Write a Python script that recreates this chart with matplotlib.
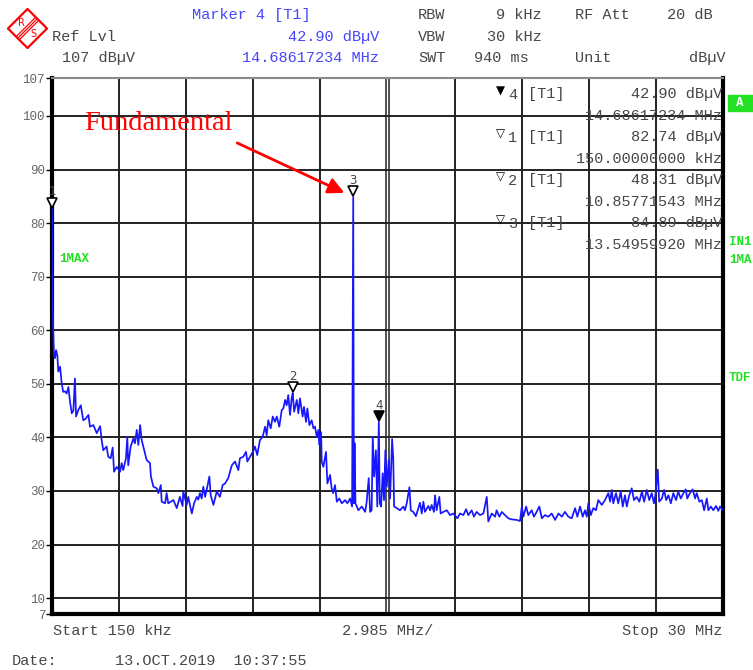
import matplotlib
matplotlib.use("Agg")
import matplotlib.pyplot as plt
from matplotlib.patches import Polygon

# trace (MHz, dBuV)
freq_mhz = [
    0.15, 0.19, 0.24, 0.28, 0.33, 0.39, 0.43, 0.51, 0.58, 0.65, 0.73, 0.80, 0.88, 0.95,
    1.03, 1.10, 1.17, 1.22, 1.32, 1.43, 1.54, 1.65, 1.77, 1.84, 1.99, 2.14, 2.29, 2.36,
    2.43, 2.58, 2.65, 2.76, 2.85, 2.91, 3.03, 3.18, 3.25, 3.32, 3.44, 3.50, 3.54, 3.65,
    3.77, 3.84, 3.92, 3.99, 4.07, 4.14, 4.21, 4.36, 4.51, 4.55, 4.66, 4.81, 4.88, 4.99,
    5.03, 5.18, 5.25, 5.32, 5.55, 5.70, 5.84, 5.96, 5.99, 6.14, 6.21, 6.37, 6.47, 6.59,
    6.66, 6.73, 6.81, 6.88, 6.96, 7.03, 7.15, 7.21, 7.33, 7.48, 7.62, 7.74, 7.85, 7.99,
    8.15, 8.29, 8.44, 8.51, 8.66, 8.78, 8.84, 8.96, 9.11, 9.18, 9.28, 9.40, 9.52, 9.63,
    9.70, 9.77, 9.88, 9.97, 10.07, 10.15, 10.26, 10.37, 10.44, 10.52, 10.59, 10.66, 10.74,
    10.81, 10.86, 10.92, 11.04, 11.11, 11.18, 11.30, 11.36, 11.45, 11.51, 11.60, 11.70,
    11.78, 11.85, 11.93, 12.00, 12.04, 12.12, 12.15, 12.22, 12.34, 12.40, 12.52, 12.59,
    12.66, 12.74, 12.82, 12.93, 13.04, 13.19, 13.29, 13.41, 13.50, 13.55, 13.58, 13.61,
    13.65, 13.78, 13.93, 14.08, 14.15, 14.24, 14.30, 14.37, 14.42, 14.48, 14.56, 14.62,
    14.69, 14.73, 14.79, 14.86, 14.92, 14.98, 15.04, 15.13, 15.19, 15.28, 15.33, 15.37,
    15.49, 15.63, 15.78, 15.85, 15.93, 16.05, 16.11, 16.22, 16.34, 16.45, 16.52, 16.60,
    16.67, 16.74, 16.89, 16.97, 17.04, 17.14, 17.19, 17.26, 17.38, 17.44, 17.56, 17.71,
    17.86, 18.00, 18.18, 18.30, 18.45, 18.57, 18.67, 18.82, 18.92, 19.04, 19.19, 19.34,
    19.49, 19.56, 19.71, 19.86, 19.93, 20.05, 20.16, 20.30, 20.45, 20.60, 20.82, 20.97,
    21.05, 21.12, 21.24, 21.34, 21.49, 21.59, 21.71, 21.83, 21.94, 22.08, 22.23, 22.38,
    22.53, 22.68, 22.83, 22.97, 23.12, 23.27, 23.42, 23.52, 23.64, 23.76, 23.86, 23.94,
    24.01, 24.12, 24.23, 24.35, 24.45, 24.61, 24.75, 24.90, 24.98, 25.05, 25.12, 25.24,
    25.34, 25.45, 25.54, 25.64, 25.72, 25.83, 25.94, 26.04, 26.16, 26.28, 26.39, 26.49,
    26.61, 26.72, 26.83, 26.93, 26.99, 27.10, 27.16, 27.28, 27.38, 27.47, 27.57, 27.68,
    27.79, 27.91, 28.01, 28.12, 28.24, 28.34, 28.41, 28.53, 28.65, 28.76, 28.83, 28.95,
    29.06, 29.16, 29.28, 29.35, 29.46, 29.57, 29.69, 29.79, 29.87, 30.00,
]
level_dbuv = [
    82.74, 62.0, 55.0, 54.8, 56.3, 55.2, 52.3, 53.2, 50.1, 48.5, 48.6, 48.2, 49.4, 46.7,
    44.5, 45.0, 51.0, 43.9, 45.1, 46.0, 43.2, 43.5, 44.2, 42.0, 42.3, 40.8, 42.1, 39.5,
    37.6, 38.3, 36.4, 36.1, 38.1, 33.6, 34.5, 33.6, 35.2, 33.9, 36.1, 40.1, 34.8, 38.3,
    39.8, 38.9, 41.4, 38.6, 42.3, 39.5, 38.3, 35.8, 35.2, 32.7, 30.8, 30.5, 29.6, 31.1,
    28.0, 27.7, 29.6, 27.7, 28.3, 26.8, 28.9, 27.2, 29.9, 27.4, 28.9, 25.8, 27.7, 28.9,
    28.4, 29.6, 28.6, 30.8, 28.9, 30.2, 32.7, 29.2, 27.4, 29.9, 28.9, 31.1, 31.4, 32.4,
    34.8, 35.5, 33.9, 36.1, 36.4, 37.3, 35.5, 36.4, 37.5, 38.3, 36.7, 39.5, 40.1, 42.0,
    40.4, 43.2, 41.7, 43.9, 42.9, 43.9, 42.0, 45.1, 45.4, 47.0, 46.0, 47.9, 44.2,
    47.3, 48.31, 44.8, 47.0, 44.5, 47.3, 43.9, 45.7, 42.9, 45.4, 42.3, 43.2,
    41.7, 42.0, 40.1, 41.4, 38.6, 41.0, 35.5, 34.5, 37.3, 31.4, 33.0, 30.5,
    29.6, 31.1, 28.0, 28.6, 27.7, 28.3, 27.7, 28.6, 27.1, 84.89, 27.7, 38.9,
    27.7, 26.4, 27.1, 26.1, 28.0, 32.4, 26.1, 26.4, 40.1, 32.7, 37.6, 27.1,
    42.90, 27.7, 27.1, 33.3, 28.3, 37.6, 30.8, 35.8, 28.6, 39.7, 36.1, 27.1,
    26.8, 26.4, 27.1, 26.4, 27.7, 30.7, 26.4, 26.1, 25.3, 26.8, 27.8, 25.8,
    28.0, 26.1, 27.2, 26.4, 27.4, 26.1, 29.2, 26.4, 28.9, 25.8, 26.1, 26.4,
    25.5, 25.8, 24.9, 25.8, 25.5, 26.6, 25.5, 26.4, 25.2, 26.1, 25.5, 25.8,
    28.9, 24.3, 25.8, 25.2, 26.4, 25.2, 26.1, 25.5, 24.9, 24.7, 24.6, 24.4,
    27.1, 25.2, 27.1, 25.5, 26.4, 25.2, 26.1, 27.1, 24.9, 25.5, 25.2, 25.8,
    24.6, 25.8, 25.2, 26.1, 25.2, 24.9, 26.8, 25.2, 27.1, 25.2, 26.4, 25.2,
    27.7, 25.5, 26.8, 26.4, 28.3, 27.4, 28.3, 29.6, 28.0, 30.2, 27.7, 29.6,
    27.7, 29.9, 27.1, 29.2, 27.1, 29.2, 30.5, 28.3, 28.9, 28.0, 29.9, 28.0,
    30.2, 28.3, 29.6, 27.7, 29.2, 34.0, 28.0, 28.6, 30.2, 28.3, 29.2, 27.7,
    29.6, 28.3, 29.9, 28.6, 29.6, 30.3, 28.6, 29.6, 30.3, 28.6, 29.6, 28.0,
    28.3, 26.4, 28.6, 26.4, 27.1, 26.4, 27.2, 26.3, 27.1, 26.4,
]

marker_ids = ["1", "2", "3", "4"]
marker_freq = [0.15, 10.85771543, 13.54959920, 14.68617234]
marker_level = [82.74, 48.31, 84.89, 42.90]
marker_freq_txt = ["150.00000000 kHz", "10.85771543 MHz", "13.54959920 MHz", "14.68617234 MHz"]
table_order = [3, 0, 1, 2]   # marker 4 first, then 1, 2, 3

y_ticks = [7, 10, 20, 30, 40, 50, 60, 70, 80, 90, 100, 107]
start_mhz, stop_mhz = 0.15, 30.0
span_div = 2.985

W, H = 753, 670
MONO = ["Liberation Mono", "DejaVu Sans Mono"]
GREY = "#474747"
BLUE = "#4545ff"
GREEN = "#22e022"

fig = plt.figure(figsize=(W / 100, H / 100), dpi=100)


def ftext(x, y, s, **kw):
    kw.setdefault("va", "center")
    kw.setdefault("family", MONO)
    kw.setdefault("fontsize", 11)
    kw.setdefault("color", GREY)
    fig.text(x / W, 1 - y / H, s, **kw)


ax = fig.add_axes([52 / W, 1 - 614.2 / H, 671 / W, (614.2 - 78.5) / H])
ax.set_xlim(start_mhz, stop_mhz)
ax.set_ylim(7, 107)

# graticule
for k in range(1, 10):
    xg = start_mhz + k * span_div
    if k == 5:
        ax.axvline(xg - 0.045, color="#222222", lw=1.1, zorder=1)
        ax.axvline(xg + 0.045, color="#222222", lw=1.1, zorder=1)
    else:
        ax.axvline(xg, color="#222222", lw=1.4, zorder=1)
for yg in range(10, 101, 10):
    ax.axhline(yg, color="#222222", lw=1.4, zorder=1)

ax.plot(freq_mhz, level_dbuv, color="#1717ff", lw=1.25, zorder=3)

# markers on the trace
shift_up = matplotlib.transforms.ScaledTranslation(0, 4 / 72, fig.dpi_scale_trans)
for mid, mf, ml in zip(marker_ids, marker_freq, marker_level):
    filled = mid == "4"
    ax.plot([mf], [ml], marker="v", ms=7, mew=1.2, mec="black",
            mfc="black" if filled else "white", zorder=5,
            transform=ax.transData + shift_up, clip_on=False)
    ax.annotate(mid, xy=(mf, ml), xytext=(0, 12), textcoords="offset points",
                ha="center", va="center", fontsize=8.5, color=GREY, zorder=5)

ax.set_yticks(y_ticks)
ax.set_yticklabels([str(t) for t in y_ticks], family=MONO, fontsize=9, color="#666666")
ax.set_xticks([])
ax.tick_params(axis="y", length=4, width=1, color="black", pad=1)
for side in ["left", "bottom", "right"]:
    ax.spines[side].set_linewidth(3)
    ax.spines[side].set_color("black")
ax.spines["top"].set_linewidth(1.5)
ax.spines["top"].set_color("#8a8a8a")

# fundamental annotation
ax.annotate("", xy=(marker_freq[2], marker_level[2]), xytext=(-116, 54),
            textcoords="offset pixels",
            arrowprops=dict(arrowstyle="-|>", color="red", lw=2, mutation_scale=24,
                            shrinkA=0, shrinkB=7))
fig.text(84 / W, 1 - 123 / H, "Fundamental", color="red", fontsize=20.5,
         family=["Liberation Serif", "DejaVu Serif"], va="center", ha="left")

# header
ftext(192, 15, "Marker 4 [T1]", color=BLUE)
ftext(52, 37, "Ref Lvl")
ftext(62, 58, "107 dBµV")
ftext(379, 37, f"{marker_level[3]:.2f} dBµV", color=BLUE, ha="right")
ftext(379, 58, marker_freq_txt[3], color=BLUE, ha="right")
ftext(418, 15, "RBW")
ftext(542, 15, "9 kHz", ha="right")
ftext(575, 15, "RF Att")
ftext(713, 15, "20 dB", ha="right")
ftext(418, 37, "VBW")
ftext(542, 37, "30 kHz", ha="right")
ftext(418, 58, "SWT")
ftext(529, 58, "940 ms", ha="right")
ftext(575, 58, "Unit")
ftext(725, 58, "dBµV", ha="right")

# marker table
row_y = [94, 137, 180, 223]
for ry, idx in zip(row_y, table_order):
    sym = "▼" if marker_ids[idx] == "4" else "▽"
    ftext(500, ry - 3, sym, family=["DejaVu Sans"], fontsize=8.5, color="black", ha="center")
    ftext(508, ry + 1, marker_ids[idx])
    ftext(528, ry, "[T1]")
    ftext(722, ry, f"{marker_level[idx]:.2f} dBµV", ha="right")
    ftext(722, ry + 22, marker_freq_txt[idx], ha="right")

# side labels
fig.patches.append(plt.Rectangle((728 / W, 1 - 111 / H), 25 / W, 16 / H,
                                 transform=fig.transFigure, color=GREEN))
ftext(740, 103, "A", color="white", fontsize=9, weight="bold", ha="center")
ftext(729, 242, "IN1", color=GREEN, fontsize=9, weight="bold")
ftext(729, 260, "1MA", color=GREEN, fontsize=9, weight="bold")
ftext(729, 378, "TDF", color=GREEN, fontsize=9, weight="bold")
ftext(59, 259, "1MAX", color=GREEN, fontsize=9, weight="bold")

# footer
ftext(53, 631, "Start 150 kHz")
ftext(342, 631, "2.985 MHz/")
ftext(722, 631, "Stop 30 MHz", ha="right")
ftext(12, 661, "Date:")
ftext(115, 661, "13.OCT.2019  10:37:55")

# R&S logo
lg = fig.add_axes([7 / W, 1 - 49 / H, 41 / W, 41 / H])
lg.set_xlim(-1.05, 1.05)
lg.set_ylim(-1.05, 1.05)
lg.axis("off")
lg.add_patch(Polygon([(0, 1), (1, 0), (0, -1), (-1, 0)], closed=True,
                     fill=False, ec="red", lw=1.6))
for d in (-0.08, 0.0, 0.08):
    lg.plot([-0.5 + d, 0.5 + d], [-0.5 - d, 0.5 - d], color="red", lw=0.9)
lg.text(-0.3, 0.3, "R", color="red", fontsize=7, ha="center", va="center")
lg.text(0.32, -0.3, "S", color="red", fontsize=7, ha="center", va="center")

fig.savefig("out.png", dpi=100)
